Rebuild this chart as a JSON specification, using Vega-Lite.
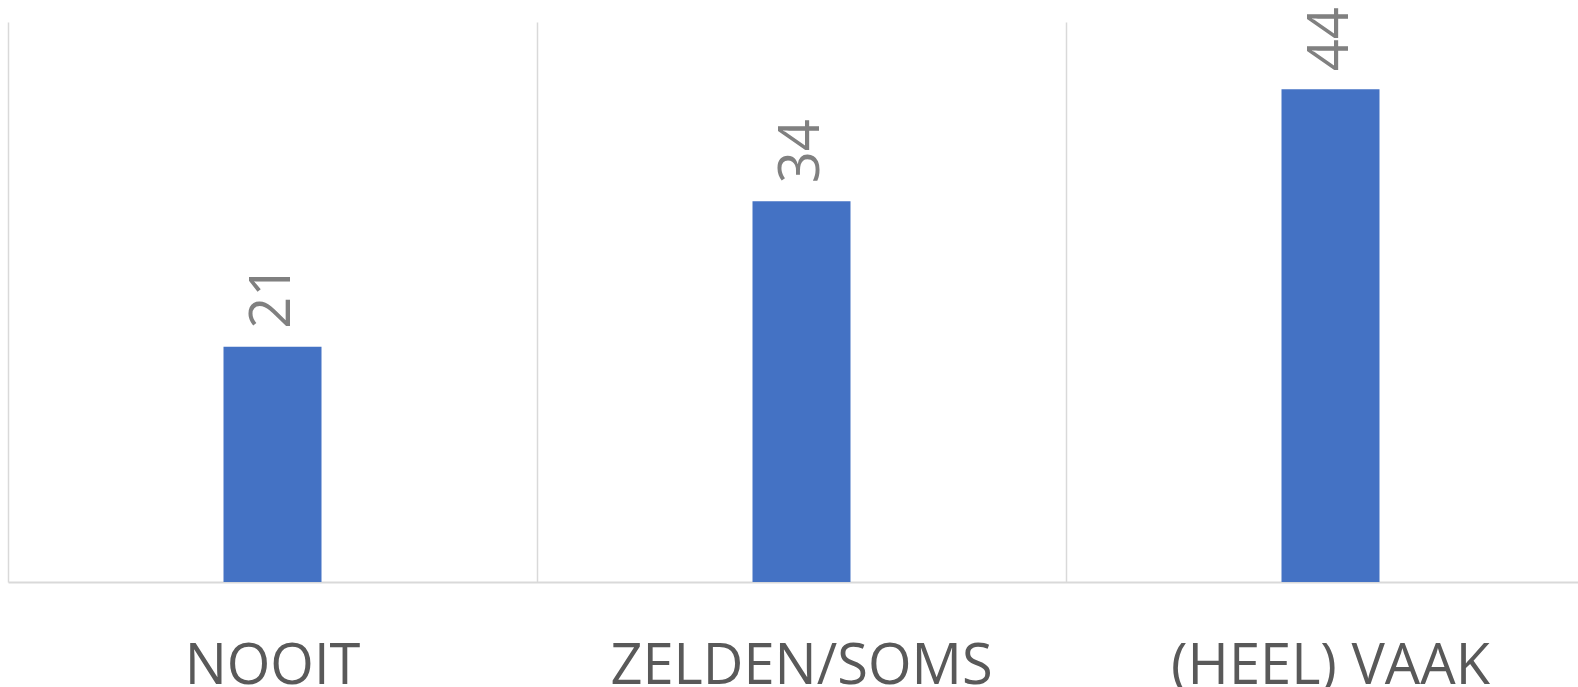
{
  "$schema": "https://vega.github.io/schema/vega-lite/v6.json",
  "width": 1587,
  "height": 560,
  "autosize": {"type": "none"},
  "padding": {"left": 8, "top": 22, "right": 0, "bottom": 105},
  "background": "white",
  "config": {"view": {"stroke": null}},
  "data": {
    "values": [
      {"categorie": "NOOIT", "waarde": 21},
      {"categorie": "ZELDEN/SOMS", "waarde": 34},
      {"categorie": "(HEEL) VAAK", "waarde": 44}
    ]
  },
  "encoding": {
    "x": {
      "field": "categorie",
      "type": "nominal",
      "sort": null,
      "scale": {"paddingInner": 0, "paddingOuter": 0},
      "axis": {
        "title": null,
        "labelAngle": 0,
        "labelFont": "Open Sans",
        "labelFontSize": 56,
        "labelColor": "#595959",
        "labelBaseline": "alphabetic",
        "labelPadding": 101,
        "labelLimit": 0,
        "labelOverlap": false,
        "ticks": false,
        "tickSize": 0,
        "grid": true,
        "gridColor": "#d9d9d9",
        "gridWidth": 1.5,
        "bandPosition": 0,
        "domainColor": "#d9d9d9",
        "domainWidth": 2
      }
    },
    "y": {
      "field": "waarde",
      "type": "quantitative",
      "scale": {"domain": [0, 50]},
      "axis": null
    }
  },
  "layer": [
    {
      "mark": {"type": "bar", "width": 98, "color": "#4472c4"}
    },
    {
      "mark": {
        "type": "text",
        "angle": -90,
        "align": "left",
        "baseline": "middle",
        "dx": 18,
        "font": "Open Sans",
        "fontSize": 56,
        "color": "#808080"
      },
      "encoding": {"text": {"field": "waarde", "type": "quantitative"}}
    }
  ]
}
